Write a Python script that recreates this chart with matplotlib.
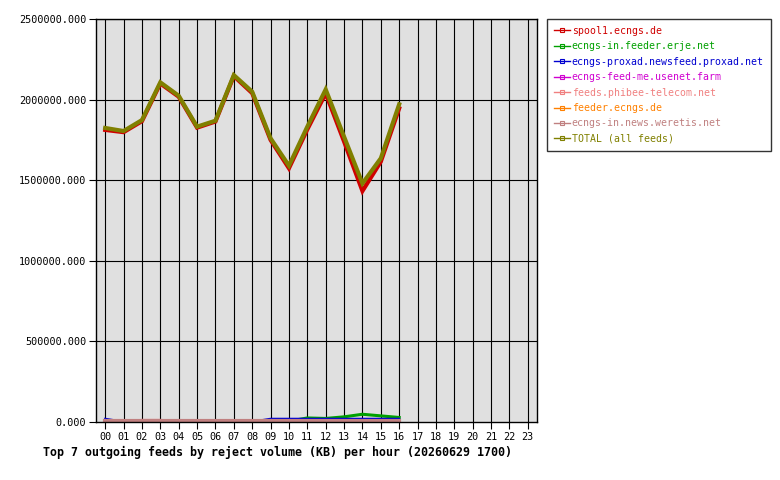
import matplotlib.pyplot as plt
import numpy as np
from matplotlib.lines import Line2D

hours = np.arange(17)
hour_labels = ['%02d' % h for h in range(24)]

# values in KB
spool1 = [1812000, 1798000, 1866000, 2100000, 2018000, 1826000, 1864000, 2146000, 2040000,
          1750000, 1574000, 1815000, 2039000, 1740000, 1433000, 1615000, 1946000]
erje = [0, 0, 0, 0, 0, 0, 0, 0, 0, 0, 5000, 25000, 22000, 32000, 48000, 38000, 28000]
proxad = [20000, 2000, 2000, 2000, 2000, 2000, 2000, 2000, 2000, 20000, 20000, 20000, 20000,
          20000, 20000, 20000, 20000]
usenet_farm = [0] * 17
phibee = [0, 0, 10000, 10000, 0, 0, 0, 0, 0, 0, 0, 0, 0, 0, 0, 0, 0]
feeder = [0] * 17
weretis = [7000] * 17
total = [1824000, 1805000, 1873000, 2107000, 2024000, 1832000, 1869000, 2152000, 2049000,
         1760000, 1590000, 1832000, 2063000, 1770000, 1480000, 1636000, 1971000]

series = [
    ('spool1.ecngs.de', spool1, '#d00000', 3),
    ('ecngs-in.feeder.erje.net', erje, '#00a000', 2.2),
    ('ecngs-proxad.newsfeed.proxad.net', proxad, '#0000d0', 1.5),
    ('ecngs-feed-me.usenet.farm', usenet_farm, '#d000d0', 1.5),
    ('feeds.phibee-telecom.net', phibee, '#f08080', 2.2),
    ('feeder.ecngs.de', feeder, '#ff8000', 1.5),
    ('ecngs-in.news.weretis.net', weretis, '#c08080', 3),
    ('TOTAL (all feeds)', total, '#808000', 3),
]

plt.rcParams['font.family'] = 'DejaVu Sans Mono'

fig = plt.figure(figsize=(7.8, 4.8), dpi=100)
ax = fig.add_axes([96 / 780, 1 - 422 / 480, 441 / 780, 403 / 480])
ax.set_facecolor('#e0e0e0')

for name, vals, col, lw in series:
    ax.plot(hours, vals, color=col, lw=lw, solid_joinstyle='miter', label=name)

ax.set_xlim(-0.5, 23.5)
ax.set_ylim(0, 2500000)
ax.set_xticks(range(24))
ax.set_xticklabels(hour_labels, fontsize=7.3)
yt = np.arange(0, 2500001, 500000)
ax.set_yticks(yt)
ax.set_yticklabels(['%.3f' % v for v in yt], fontsize=7.3)
ax.tick_params(length=5, width=0.8, color='black', pad=2)
#grid drawn by hand so it sits under the lines
for x in range(24):
    ax.axvline(x, color='black', lw=0.8, zorder=0.5)
for y in yt[1:]:
    ax.axhline(y, color='black', lw=0.8, zorder=0.5)
for s in ax.spines.values():
    s.set_linewidth(1)

fig.text(43 / 780, 1 - 452 / 480,
         'Top 7 outgoing feeds by reject volume (KB) per hour (20260629 1700)',
         fontsize=8.4, fontweight='bold', va='center', ha='left')

labels = [s[0] for s in series]
handles = [Line2D([], [], color=c, lw=1, marker='s', markersize=2.5, markerfacecolor='none',
                  markeredgecolor=c, markeredgewidth=0.8) for _, _, c, _ in series]
leg = fig.legend(handles, labels, loc='upper left', bbox_to_anchor=(547 / 780, 1 - 19 / 480),
                 fontsize=7.1, frameon=True, fancybox=False, edgecolor='black',
                 handlelength=1.6, handletextpad=0.2, labelspacing=0.55, borderpad=0.7,
                 borderaxespad=0)
for t, (_, _, c, _) in zip(leg.get_texts(), series):
    t.set_color(c)
leg.get_frame().set_linewidth(1)

plt.savefig('out.png', dpi=100)
